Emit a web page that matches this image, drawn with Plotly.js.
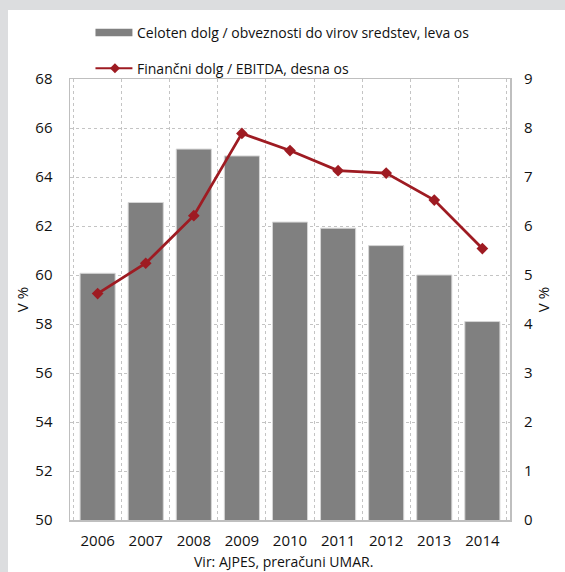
<!DOCTYPE html>
<html>
<head>
<meta charset="utf-8">
<script src="https://cdn.plot.ly/plotly-3.0.1.min.js"></script>
<style>
  html, body { margin: 0; padding: 0; background: #dcdddf; width: 565px; height: 572px; overflow: hidden; }
  #chart { position: absolute; left: 8px; top: 10px; width: 557px; height: 562px; background: #fff; }
</style>
</head>
<body>
<div id="chart"></div>
<script>
// data
const years = ['2006', '2007', '2008', '2009', '2010', '2011', '2012', '2013', '2014'];
const debtToLiabilities = [60.07, 62.96, 65.14, 64.86, 62.16, 61.91, 61.2, 60.0, 58.1];
const finDebtToEbitda = [4.62, 5.24, 6.21, 7.89, 7.54, 7.13, 7.08, 6.53, 5.54];

const barName = 'Celoten dolg / obveznosti do virov sredstev, leva os';
const lineName = 'Finančni dolg / EBITDA, desna os';
const sourceText = 'Vir: AJPES, preračuni UMAR.';

const W = 557, H = 562;
const M = { l: 61.5, r: 55, t: 69, b: 52 };
const pw = W - M.l - M.r, ph = H - M.t - M.b;
// pixel (div coords) -> paper coords, for the hand-drawn legend
const px = x => (x - M.l) / pw;
const py = y => 1 - (y - M.t) / ph;

const FONT = 'Open Sans';
const TXT = '#111111';
const RED = '#9e1b22';
const GRID = '#c4c4c4';

const bars = {
  x: years,
  y: debtToLiabilities,
  type: 'bar',
  name: barName,
  marker: { color: '#808080', line: { color: '#d6d6d6', width: 1 } },
  hoverinfo: 'skip'
};

const line = {
  x: years,
  y: finDebtToEbitda,
  yaxis: 'y2',
  type: 'scatter',
  mode: 'lines+markers',
  name: lineName,
  line: { color: RED, width: 2.8 },
  marker: { symbol: 'diamond', size: 9, color: RED },
  hoverinfo: 'skip'
};

// legend drawn by hand so the bar swatch is a wide rectangle like the original
const legY1 = 22.5, legY2 = 58.3; // div coords
const shapes = [
  { type: 'rect', xref: 'paper', yref: 'paper', x0: px(87), x1: px(124), y0: py(legY1 + 3.8), y1: py(legY1 - 3.8),
    fillcolor: '#808080', line: { width: 0 } },
  { type: 'line', xref: 'paper', yref: 'paper', x0: px(87), x1: px(124), y0: py(legY2), y1: py(legY2),
    line: { color: RED, width: 2 } },
  { type: 'path', xref: 'paper', yref: 'paper',
    path: `M ${px(106.5)} ${py(legY2 - 5)} L ${px(111.5)} ${py(legY2)} L ${px(106.5)} ${py(legY2 + 5)} L ${px(101.5)} ${py(legY2)} Z`,
    fillcolor: RED, line: { color: RED, width: 0 } }
];

const annotations = [
  { xref: 'paper', yref: 'paper', x: px(127), y: py(legY1), xanchor: 'left', yanchor: 'middle',
    text: barName, showarrow: false, font: { family: FONT, size: 14, color: TXT } },
  { xref: 'paper', yref: 'paper', x: px(127), y: py(legY2), xanchor: 'left', yanchor: 'middle',
    text: lineName, showarrow: false, font: { family: FONT, size: 14, color: TXT } },
  { xref: 'paper', yref: 'paper', x: px(275), y: py(551), xanchor: 'center', yanchor: 'middle',
    text: sourceText, showarrow: false, font: { family: FONT, size: 14, color: TXT } }
];

const layout = {
  width: W,
  height: H,
  margin: M,
  paper_bgcolor: '#ffffff',
  plot_bgcolor: '#ffffff',
  showlegend: false,
  bargap: 0.27,
  font: { family: FONT, size: 15, color: TXT },
  xaxis: {
    type: 'category',
    tickson: 'boundaries',
    showgrid: true,
    gridcolor: GRID,
    griddash: 'dot',
    gridwidth: 1,
    showline: true,
    linecolor: '#bfbfbf',
    linewidth: 1.5,
    mirror: true,
    ticks: '',
    ticklabelstandoff: 6,
    tickfont: { family: FONT, size: 15, color: TXT }
  },
  yaxis: {
    range: [50, 68],
    dtick: 2,
    showgrid: true,
    gridcolor: GRID,
    griddash: 'dot',
    gridwidth: 1,
    zeroline: false,
    showline: true,
    linecolor: '#bfbfbf',
    linewidth: 1.5,
    mirror: true,
    ticks: '',
    ticklabelstandoff: 13,
    tickfont: { family: FONT, size: 15, color: TXT },
    title: { text: 'V %', standoff: 3, font: { family: FONT, size: 15, color: TXT } }
  },
  yaxis2: {
    overlaying: 'y',
    side: 'right',
    range: [0, 9],
    dtick: 1,
    showgrid: false,
    zeroline: false,
    ticks: '',
    ticklabelstandoff: 13,
    tickfont: { family: FONT, size: 15, color: TXT },
    title: { text: 'V %', standoff: 6, font: { family: FONT, size: 15, color: TXT } }
  },
  shapes,
  annotations
};

Plotly.newPlot('chart', [bars, line], layout, { displayModeBar: false, staticPlot: true });
</script>
</body>
</html>
